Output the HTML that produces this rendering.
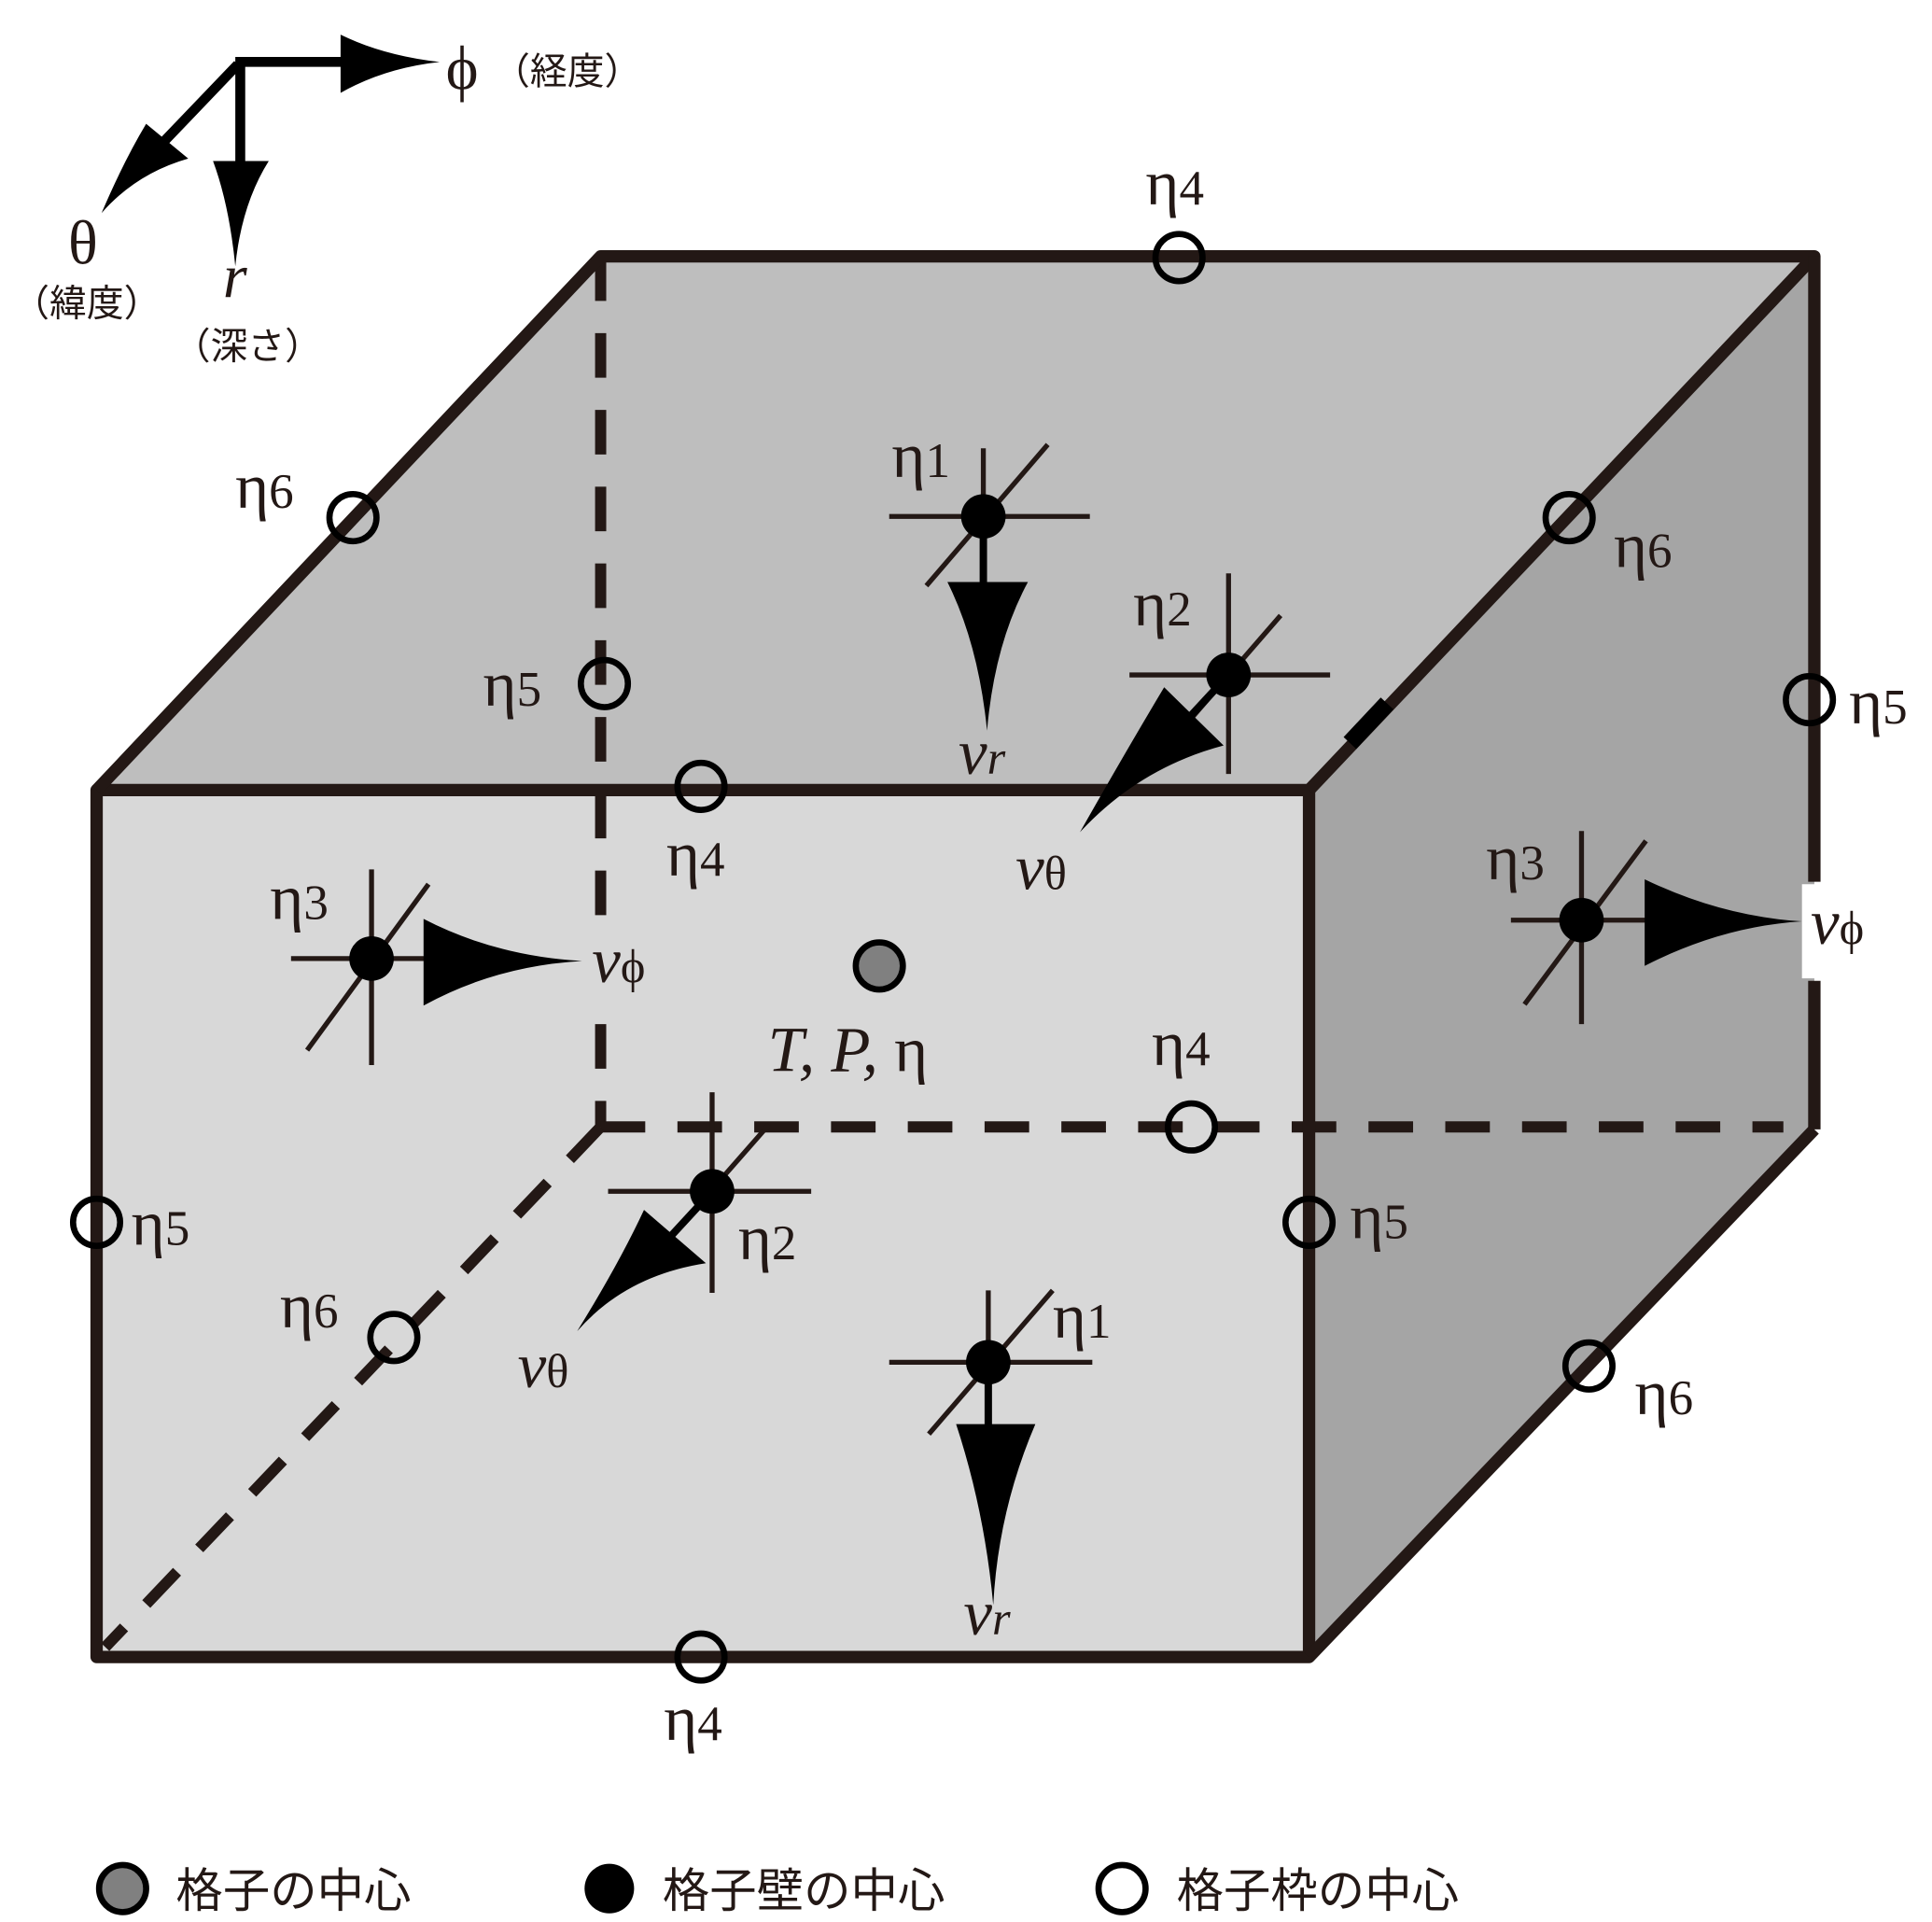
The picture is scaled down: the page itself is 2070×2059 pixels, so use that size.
<!DOCTYPE html>
<html><head><meta charset="utf-8"><style>
html,body{margin:0;padding:0;background:#fff}
svg{display:block}
text{font-family:"Liberation Serif","Noto Serif CJK SC",serif;fill:#231815}
.j{font-family:"Liberation Sans","Noto Sans CJK JP",sans-serif}
.i{font-style:italic}
</style></head><body>
<svg width="2070" height="2059" viewBox="0 0 1560 1552" preserveAspectRatio="none" xmlns="http://www.w3.org/2000/svg">
<polygon points="78,638 485,207 1465,207 1057,638" fill="#bebebe"/>
<polygon points="1057,638 1465,207 1465,912 1057,1338" fill="#a5a5a5"/>
<rect x="78" y="638" width="979" height="700" fill="#d8d8d8"/>
<rect x="1455" y="714" width="20" height="76" fill="#fff"/>
<g stroke="#231815" stroke-width="9" fill="none" stroke-dasharray="36,26">
<line x1="485" y1="207" x2="485" y2="910"/>
<line x1="485" y1="910" x2="1440" y2="910"/>
<line x1="485" y1="910" x2="85" y2="1330"/>
</g>
<rect x="474" y="745" width="22" height="62" fill="#d8d8d8"/>
<g stroke="#231815" stroke-width="10" fill="none" stroke-linejoin="round">
<rect x="78" y="638" width="979" height="700"/>
<polyline points="78,638 485,207 1465,207 1057,638"/>
<line x1="1465" y1="207" x2="1465" y2="712"/>
<line x1="1465" y1="792" x2="1465" y2="912"/>
<line x1="1465" y1="912" x2="1057" y2="1338"/>
</g>
<line x1="1090" y1="600" x2="1120" y2="568" stroke="#000" stroke-width="14"/>
<g stroke="#231815" stroke-width="4">
<g transform="translate(794,417)"><line x1="-76" y1="0" x2="86" y2="0"/><line x1="0" y1="-55" x2="0" y2="55"/><line x1="-46" y1="56" x2="52" y2="-58"/></g>
<g transform="translate(992,545)"><line x1="-80" y1="0" x2="82" y2="0"/><line x1="0" y1="-82" x2="0" y2="80"/><line x1="-30" y1="35" x2="42" y2="-48"/></g>
<g transform="translate(300,774)"><line x1="-65" y1="0" x2="45" y2="0"/><line x1="0" y1="-72" x2="0" y2="86"/><line x1="-52" y1="74" x2="46" y2="-60"/></g>
<g transform="translate(1277,743)"><line x1="-57" y1="0" x2="55" y2="0"/><line x1="0" y1="-72" x2="0" y2="84"/><line x1="-46" y1="68" x2="52" y2="-64"/></g>
<g transform="translate(575,962)"><line x1="-84" y1="0" x2="80" y2="0"/><line x1="0" y1="-80" x2="0" y2="82"/><line x1="-40" y1="44" x2="46" y2="-54"/></g>
<g transform="translate(798,1100)"><line x1="-80" y1="0" x2="84" y2="0"/><line x1="0" y1="-58" x2="0" y2="58"/><line x1="-48" y1="58" x2="52" y2="-58"/></g>
</g>
<g fill="#000">
<path d="M765,470 L830,470 Q803,520 797,590 Q790,520 765,470Z"/>
<path d="M772,1150 L836,1150 Q806,1220 802,1296 Q795,1220 772,1150Z"/>
<path d="M342,742 L342,812 Q400,780 470,776 Q400,772 342,742Z"/>
<path d="M1328,710 L1328,780 Q1390,748 1455,744 Q1390,740 1328,710Z"/>
<path d="M940,555 L988,602 Q920,620 872,672 Q910,605 940,555Z"/>
<path d="M520,977 L570,1020 Q505,1030 466,1075 Q500,1020 520,977Z"/>
<line x1="794" y1="417" x2="794" y2="475" stroke="#000" stroke-width="6"/>
<line x1="798" y1="1100" x2="798" y2="1155" stroke="#000" stroke-width="6"/>
<line x1="992" y1="545" x2="955" y2="585" stroke="#000" stroke-width="6"/>
<line x1="575" y1="962" x2="540" y2="1000" stroke="#000" stroke-width="6"/>
</g>
<g fill="#000">
<circle cx="794" cy="417" r="18"/><circle cx="992" cy="545" r="18"/><circle cx="300" cy="774" r="18"/>
<circle cx="1277" cy="743" r="18"/><circle cx="575" cy="962" r="18"/><circle cx="798" cy="1100" r="18"/>
</g>
<circle cx="710" cy="780" r="19" fill="#808080" stroke="#000" stroke-width="5"/>
<g fill="none" stroke="#000" stroke-width="5">
<circle cx="952" cy="208" r="19"/><circle cx="285" cy="418" r="19"/><circle cx="1267" cy="418" r="19"/>
<circle cx="488" cy="552" r="19"/><circle cx="1461" cy="565" r="19"/><circle cx="566" cy="635" r="19"/>
<circle cx="962" cy="910" r="19"/><circle cx="78" cy="987" r="19"/><circle cx="1057" cy="987" r="19"/>
<circle cx="318" cy="1080" r="19"/><circle cx="1283" cy="1103" r="19"/><circle cx="566" cy="1338" r="19"/>
</g>
<g font-size="52">
<text x="925" y="165">η<tspan font-size="40">4</tspan></text>
<text x="190" y="410">η<tspan font-size="40">6</tspan></text>
<text x="1303" y="458">η<tspan font-size="40">6</tspan></text>
<text x="390" y="570">η<tspan font-size="40">5</tspan></text>
<text x="1493" y="584">η<tspan font-size="40">5</tspan></text>
<text x="538" y="707">η<tspan font-size="40">4</tspan></text>
<text x="720" y="385">η<tspan font-size="40">1</tspan></text>
<text x="915" y="505">η<tspan font-size="40">2</tspan></text>
<text x="218" y="742">η<tspan font-size="40">3</tspan></text>
<text x="1200" y="710">η<tspan font-size="40">3</tspan></text>
<text x="930" y="860">η<tspan font-size="40">4</tspan></text>
<text x="106" y="1005">η<tspan font-size="40">5</tspan></text>
<text x="1090" y="1000">η<tspan font-size="40">5</tspan></text>
<text x="596" y="1017">η<tspan font-size="40">2</tspan></text>
<text x="226" y="1072">η<tspan font-size="40">6</tspan></text>
<text x="850" y="1080">η<tspan font-size="40">1</tspan></text>
<text x="1320" y="1142">η<tspan font-size="40">6</tspan></text>
<text x="536" y="1405">η<tspan font-size="40">4</tspan></text>
<text x="620" y="865" class="i">T, P, <tspan font-style="normal">η</tspan></text>
</g>
<g font-size="52" class="i">
<text x="774" y="625">v<tspan font-size="38">r</tspan></text>
<text x="778" y="1320">v<tspan font-size="38">r</tspan></text>
<text x="820" y="718">v<tspan font-size="38" font-style="normal">θ</tspan></text>
<text x="418" y="1120">v<tspan font-size="38" font-style="normal">θ</tspan></text>
<text x="478" y="793">v<tspan font-size="38" font-style="normal">ϕ</tspan></text>
<text x="1462" y="762">v<tspan font-size="38" font-style="normal">ϕ</tspan></text>
</g>
<g stroke="#000" stroke-width="8" fill="none">
<polyline points="190,50 290,50"/>
<line x1="194" y1="50" x2="194" y2="140"/>
<line x1="192" y1="52" x2="125" y2="122"/>
</g>
<g fill="#000">
<path d="M275,28 L275,75 Q310,55 355,50 Q310,45 275,28Z"/>
<path d="M172,130 L217,130 Q195,165 190,215 Q185,165 172,130Z"/>
<path d="M118,100 L152,128 Q110,140 82,172 Q100,130 118,100Z"/>
</g>
<text x="360" y="72" font-size="50">ϕ</text><text x="398" y="68" font-size="30" class="j">（経度）</text>
<text x="55" y="213" font-size="50">θ</text><text x="10" y="255" font-size="30" class="j">（緯度）</text>
<text x="180" y="240" font-size="50" class="i">r</text><text x="140" y="290" font-size="30" class="j">（深さ）</text>
<circle cx="99" cy="1525" r="19" fill="#808080" stroke="#000" stroke-width="5"/>
<text x="142" y="1540" font-size="38" class="j">格子の中心</text>
<circle cx="492" cy="1525" r="20" fill="#000"/>
<text x="535" y="1540" font-size="38" class="j">格子壁の中心</text>
<circle cx="906" cy="1525" r="19" fill="none" stroke="#000" stroke-width="5"/>
<text x="950" y="1540" font-size="38" class="j">格子枠の中心</text>
</svg>
</body></html>
